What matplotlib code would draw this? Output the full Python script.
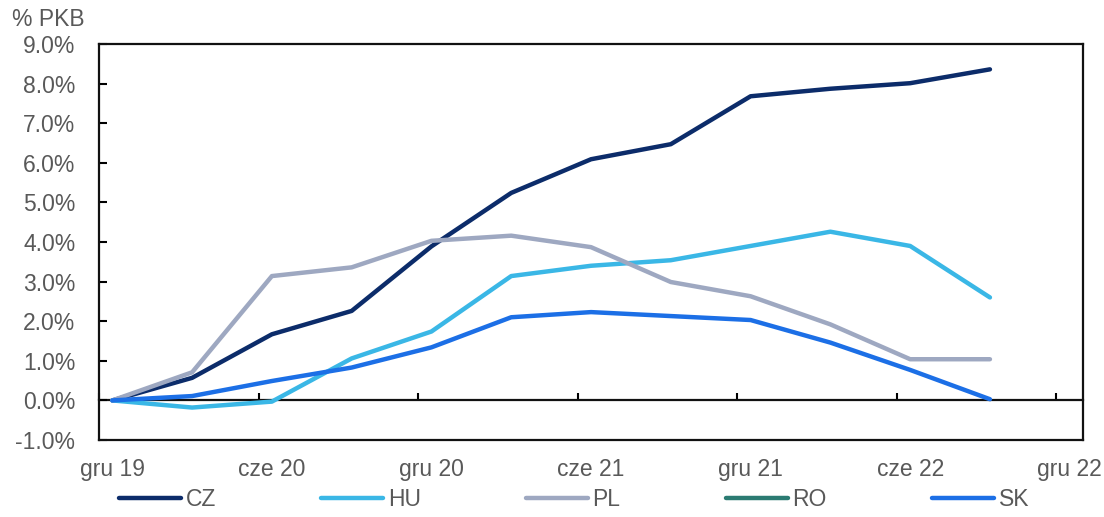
import matplotlib
matplotlib.use('Agg')
import matplotlib.pyplot as plt
import numpy as np

# quarterly readings, Dec 2019 .. Sep 2022, % of GDP
quarters = ['gru 19', 'mar 20', 'cze 20', 'wrz 20', 'gru 20', 'mar 21',
            'cze 21', 'wrz 21', 'gru 21', 'mar 22', 'cze 22', 'wrz 22']
cz = [0.0, 0.57, 1.67, 2.26, 3.89, 5.24, 6.09, 6.47, 7.68, 7.87, 8.01, 8.36]
hu = [0.0, -0.18, -0.03, 1.06, 1.74, 3.14, 3.40, 3.54, 3.90, 4.26, 3.90, 2.60]
pl = [0.0, 0.71, 3.14, 3.36, 4.03, 4.16, 3.87, 2.99, 2.63, 1.92, 1.04, 1.04]
ro = [None] * 12  # no observations published
sk = [0.0, 0.11, 0.49, 0.83, 1.34, 2.10, 2.23, 2.13, 2.03, 1.46, 0.77, 0.03]

tick_labels = ['gru 19', 'cze 20', 'gru 20', 'cze 21', 'gru 21', 'cze 22', 'gru 22']
y_ticks = [-1, 0, 1, 2, 3, 4, 5, 6, 7, 8, 9]

series = [('CZ', cz, '#0c2c6a'), ('HU', hu, '#3ab7e6'), ('PL', pl, '#9ea8c1'),
          ('RO', ro, '#2b7b72'), ('SK', sk, '#1c6fe6')]

plt.rcParams['font.family'] = ['Liberation Sans', 'DejaVu Sans']
grey = '#595959'

fig = plt.figure(figsize=(11.04, 5.17), dpi=100)
ax = fig.add_axes([0.0897, 0.1489, 0.8913, 0.766])

# month axis: each point sits in the middle of its month slot
month_pos = np.arange(len(quarters)) * 3 + 0.5
for name, vals, col in series:
    ax.plot(month_pos, np.array(vals, dtype=float), color=col, lw=3.2,
            solid_capstyle='round', solid_joinstyle='round', label=name)

ax.set_xlim(0, 37)
ax.set_ylim(-1, 9)
ax.set_yticks(y_ticks)
ax.set_yticklabels([f'{v:.1f}%' for v in y_ticks])
ax.tick_params(axis='y', direction='in', length=5.5, width=1.5, pad=17,
               labelsize=16.5, labelcolor=grey)

edges = np.arange(0, 37, 6)
ax.set_xticks(edges)
ax.set_xticklabels([''] * len(edges))
ax.set_xticks(edges + 0.5, tick_labels, minor=True)
ax.tick_params(axis='x', which='both', length=0, pad=13,
               labelsize=16.5, labelcolor=grey)

for sp in ax.spines.values():
    sp.set_linewidth(1.6)
    sp.set_color('#111111')

# zero line carrying the half-year tick marks
zero = ax.secondary_xaxis(0.1)
zero.set_xticks(edges)
zero.tick_params(direction='in', length=5, width=1.5, labelbottom=False)
zero.spines['bottom'].set_linewidth(1.6)
zero.spines['bottom'].set_color('#111111')

fig.text(0.011, 0.962, '% PKB', fontsize=16.5, color=grey, va='center')

leg = fig.legend(loc='center', bbox_to_anchor=(0.52, 0.033), ncol=5,
                 frameon=False, fontsize=16.5, handlelength=2.7,
                 handletextpad=0.2, columnspacing=4.6, borderaxespad=0)
for t in leg.get_texts():
    t.set_color(grey)

fig.savefig('out.png', dpi=100)
